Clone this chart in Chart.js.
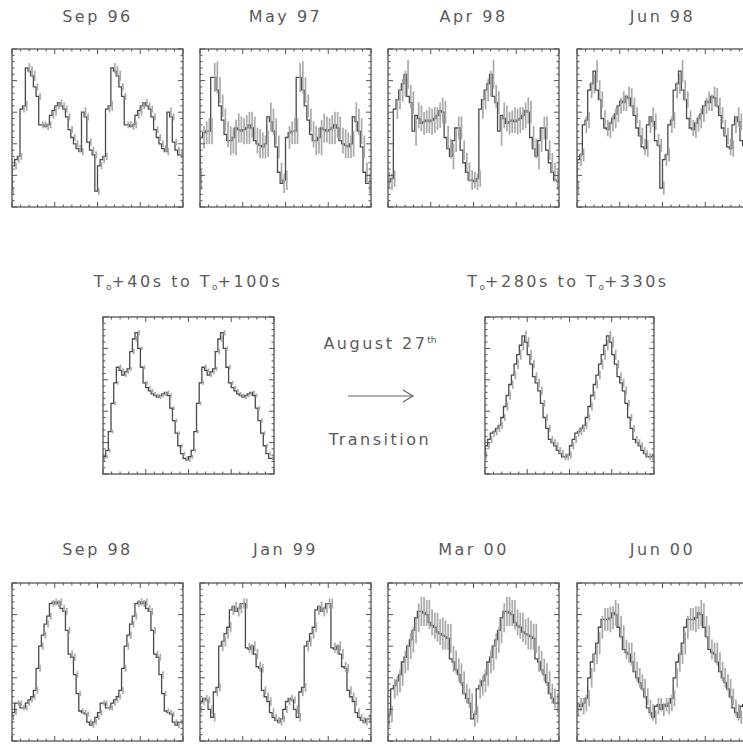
<!DOCTYPE html>
<html lang="en">

  <head>
    <meta charset="UTF-8">
    <title>Pulse profiles</title>
    <script src="https://cdn.jsdelivr.net/npm/chart.js"></script>
    <style>
      body {
        margin: 0;
        width: 743px;
        height: 745px;
        overflow: hidden;
        background: #fff;
        position: relative;
        font-family: "DejaVu Sans", sans-serif;
        color: #5a5a5a;
      }
      .panel { position: absolute; }
      .top { top: 47px; height: 162px; }
      .mid { top: 315px; height: 161px; }
      .bot { top: 581px; height: 162px; }
      .c1 { left: 10px; width: 175px; }
      .c2 { left: 198px; width: 175px; }
      .c3 { left: 386px; width: 175px; }
      .c4 { left: 575px; width: 175px; }
      .label {
        position: absolute;
        text-align: center;
        font-size: 16px;
        letter-spacing: 2.5px;
        line-height: 20px;
        white-space: nowrap;
      }
      .label sub { font-size: 9px; vertical-align: -3px; letter-spacing: 0; }
      .label sup { font-size: 9px; vertical-align: 6px; letter-spacing: 0; }
    </style>
  </head>

  <body>
    <div class="label" style="left:12px;width:171px;top:7px">Sep 96</div>
    <div class="label" style="left:200px;width:171px;top:7px">May 97</div>
    <div class="label" style="left:388px;width:171px;top:7px">Apr 98</div>
    <div class="label" style="left:577px;width:171px;top:7px">Jun 98</div>

    <div class="label" style="left:78px;width:220px;top:272px">T<sub>o</sub>+40s to T<sub>o</sub>+100s</div>
    <div class="label" style="left:458px;width:220px;top:272px">T<sub>o</sub>+280s to T<sub>o</sub>+330s</div>
    <div class="label" style="left:310px;width:140px;top:330px">August 27<sup>th</sup></div>
    <div class="label" style="left:310px;width:140px;top:430px">Transition</div>
    <svg style="position:absolute;left:340px;top:386px" width="80" height="20">
      <line x1="8" y1="10" x2="73" y2="10" stroke="#666" stroke-width="1.2" />
      <polyline points="63,4 73,10 63,16" fill="none" stroke="#666" stroke-width="1.2" />
    </svg>

    <div class="label" style="left:12px;width:171px;top:540px">Sep 98</div>
    <div class="label" style="left:200px;width:171px;top:540px">Jan 99</div>
    <div class="label" style="left:388px;width:171px;top:540px">Mar 00</div>
    <div class="label" style="left:577px;width:171px;top:540px">Jun 00</div>

    <div class="panel top c1"><canvas id="sep96"></canvas></div>
    <div class="panel top c2"><canvas id="may97"></canvas></div>
    <div class="panel top c3"><canvas id="apr98"></canvas></div>
    <div class="panel top c4"><canvas id="jun98"></canvas></div>
    <div class="panel mid" style="left:101px;width:175px"><canvas id="t40"></canvas></div>
    <div class="panel mid" style="left:483px;width:173px"><canvas id="t280"></canvas></div>
    <div class="panel bot c1"><canvas id="sep98"></canvas></div>
    <div class="panel bot c2"><canvas id="jan99"></canvas></div>
    <div class="panel bot c3"><canvas id="mar00"></canvas></div>
    <div class="panel bot c4"><canvas id="jun00"></canvas></div>

    <script>
      // one rotation per profile, 32 phase bins, count rate in % of panel range
      // (each profile gets shown over two rotations)
      const sep96 = [10, 26, 30, 32, 62, 64, 88, 86, 83, 76, 70, 52, 52, 51, 52, 58,
        61, 64, 66, 64, 62, 57, 49, 44, 40, 37, 35, 60, 57, 41, 36, 33];
      const sep96Err = [2, 2, 2, 2, 2, 3, 3, 3, 3, 2, 2, 2, 2, 2, 2, 2,
        3, 2, 2, 2, 2, 2, 2, 2, 2, 2, 2, 3, 2, 2, 2, 2];

      const may97 = [17, 44, 47, 48, 48, 82, 82, 74, 64, 55, 46, 42, 42, 44, 50, 49,
        48, 49, 50, 52, 50, 42, 40, 39, 38, 40, 57, 54, 48, 38, 22, 15];
      const may97Err = [6, 7, 7, 8, 8, 9, 10, 8, 7, 7, 8, 9, 8, 11, 9, 8,
        8, 9, 10, 8, 7, 8, 9, 8, 7, 8, 9, 8, 8, 7, 6, 6];

      const apr98 = [17, 16, 18, 62, 68, 74, 78, 84, 70, 66, 48, 58, 56, 53, 54, 55,
        54, 55, 56, 58, 61, 60, 44, 37, 32, 42, 50, 50, 36, 28, 22, 17];
      const apr98Err = [5, 5, 5, 6, 6, 7, 8, 9, 7, 7, 9, 8, 8, 7, 7, 8,
        8, 8, 7, 8, 8, 7, 7, 6, 8, 7, 7, 7, 6, 6, 6, 6];

      const jun98 = [12, 30, 33, 52, 55, 74, 78, 86, 74, 68, 56, 50, 49, 53, 56, 59,
        64, 67, 66, 70, 69, 64, 58, 50, 45, 38, 37, 52, 57, 54, 42, 39];
      const jun98Err = [4, 4, 4, 5, 5, 5, 6, 7, 6, 5, 5, 5, 5, 5, 6, 5,
        5, 6, 5, 6, 6, 5, 5, 5, 5, 5, 5, 5, 6, 5, 4, 4];

      const t40 = [9, 11, 15, 27, 45, 58, 68, 66, 63, 65, 67, 78, 86, 90, 80, 68,
        58, 55, 53, 51, 50, 49, 50, 51, 52, 50, 42, 34, 26, 18, 13, 10];
      const t40Err = [1, 1, 1, 1, 1, 1, 1.5, 1, 1, 1, 1, 1.5, 1.5, 1.5, 1, 1,
        1, 1, 1, 1, 1, 1, 1, 1, 1, 1, 1, 1, 1, 1, 1, 1];

      const t280 = [12, 18, 22, 26, 27, 29, 31, 36, 43, 50, 57, 63, 70, 76, 82, 88,
        84, 76, 70, 62, 58, 53, 45, 36, 29, 22, 20, 18, 15, 13, 11, 11];
      const t280Err = [2, 2, 2, 2, 2, 2, 2, 2, 2.5, 2.5, 2.5, 2.5, 3, 3, 3, 3,
        3, 3, 2.5, 2.5, 2.5, 2.5, 2, 2, 2, 2, 2, 2, 2, 2, 2, 2];

      const sep98 = [15, 18, 24, 24, 21, 21, 24, 26, 28, 32, 46, 60, 67, 74, 79, 87,
        88, 87, 88, 84, 82, 70, 55, 53, 42, 30, 19, 18, 17, 12, 10, 12];
      const sep98Err = [1.5, 1.5, 1.5, 1.5, 1.5, 1.5, 1.5, 1.5, 1.5, 2, 2, 2, 2, 2, 2, 2,
        2, 2, 2, 2, 2, 2, 2, 2, 2, 1.5, 1.5, 1.5, 1.5, 1.5, 1.5, 1.5];

      const jan99 = [20, 25, 27, 26, 20, 15, 31, 34, 60, 63, 68, 72, 83, 85, 82, 84,
        87, 87, 59, 58, 60, 55, 47, 46, 32, 28, 25, 18, 15, 13, 12, 14];
      const jan99Err = [2, 2, 2, 2, 2.5, 2.5, 2.5, 2.5, 3, 3, 3, 3, 3, 3, 3, 3,
        3, 3, 3, 3, 3, 3, 3, 2.5, 2.5, 2.5, 2.5, 2.5, 2, 2, 2, 2];

      const mar00 = [14, 17, 33, 35, 38, 42, 50, 53, 60, 64, 70, 78, 82, 82, 81, 80,
        75, 73, 72, 69, 68, 67, 66, 65, 52, 50, 45, 42, 37, 30, 27, 24];
      const mar00Err = [5, 5, 6, 6, 7, 7, 7, 8, 8, 8, 8, 9, 9, 9, 8, 9,
        8, 8, 9, 8, 10, 9, 8, 9, 8, 7, 7, 7, 7, 6, 6, 6];

      const jun00 = [20, 23, 22, 24, 27, 40, 50, 55, 62, 72, 77, 77, 77, 78, 81, 80,
        72, 66, 58, 56, 55, 50, 44, 40, 37, 33, 28, 21, 18, 15, 22, 23];
      const jun00Err = [4, 4, 5, 5, 5, 6, 6, 6, 7, 7, 7, 7, 8, 7, 8, 7,
        7, 7, 6, 6, 7, 6, 6, 6, 5, 6, 5, 5, 5, 4, 5, 4];

      // box with inward ticks on all four sides
      const frameTicks = {
        id: 'frameTicks',
        afterDraw(chart) {
          const { ctx, chartArea: a, scales: { x, y } } = chart;
          const seg = (x1, y1, x2, y2) => {
            ctx.beginPath(); ctx.moveTo(x1, y1); ctx.lineTo(x2, y2); ctx.stroke();
          };
          ctx.save();
          ctx.strokeStyle = '#555';
          ctx.lineWidth = 1;
          for (let k = 0; k <= 20; k++) {
            const px = x.getPixelForValue(x.max * k / 20);
            const len = k % 5 === 0 ? 5 : 2.5;
            seg(px, a.top, px, a.top + len);
            seg(px, a.bottom, px, a.bottom - len);
          }
          for (let k = 0; k <= 25; k++) {
            const py = y.getPixelForValue(y.max * k / 25);
            const len = k % 5 === 0 ? 5 : 2.5;
            seg(a.left, py, a.left + len, py);
            seg(a.right, py, a.right - len, py);
          }
          ctx.lineWidth = 1.3;
          ctx.strokeRect(a.left, a.top, a.right - a.left, a.bottom - a.top);
          ctx.restore();
        }
      };

      function drawProfile(id, rate, err) {
        const twice = rate.concat(rate);
        const errTwice = err.concat(err);
        const steps = twice.map((v, i) => ({ x: i, y: v }));
        steps.push({ x: twice.length, y: twice[twice.length - 1] });
        const bars = twice.map((v, i) => ({ x: i + 0.5, y: [v - errTwice[i], v + errTwice[i]] }));

        new Chart(document.getElementById(id), {
          type: 'line',
          data: {
            datasets: [
              {
                type: 'bar',
                data: bars,
                backgroundColor: '#a8a8a8',
                barThickness: 1,
                grouped: false
              },
              {
                data: steps,
                stepped: 'after',
                borderColor: '#4a4a4a',
                borderWidth: 1.3,
                pointRadius: 0,
                fill: false
              }
            ]
          },
          options: {
            responsive: true,
            maintainAspectRatio: false,
            animation: false,
            layout: { padding: 2 },
            plugins: { legend: { display: false }, tooltip: { enabled: false } },
            scales: {
              x: { type: 'linear', min: 0, max: twice.length, offset: false, display: false },
              y: { min: 0, max: 100, display: false }
            }
          },
          plugins: [frameTicks]
        });
      }

      drawProfile('sep96', sep96, sep96Err);
      drawProfile('may97', may97, may97Err);
      drawProfile('apr98', apr98, apr98Err);
      drawProfile('jun98', jun98, jun98Err);
      drawProfile('t40', t40, t40Err);
      drawProfile('t280', t280, t280Err);
      drawProfile('sep98', sep98, sep98Err);
      drawProfile('jan99', jan99, jan99Err);
      drawProfile('mar00', mar00, mar00Err);
      drawProfile('jun00', jun00, jun00Err);
    </script>
  </body>

</html>
